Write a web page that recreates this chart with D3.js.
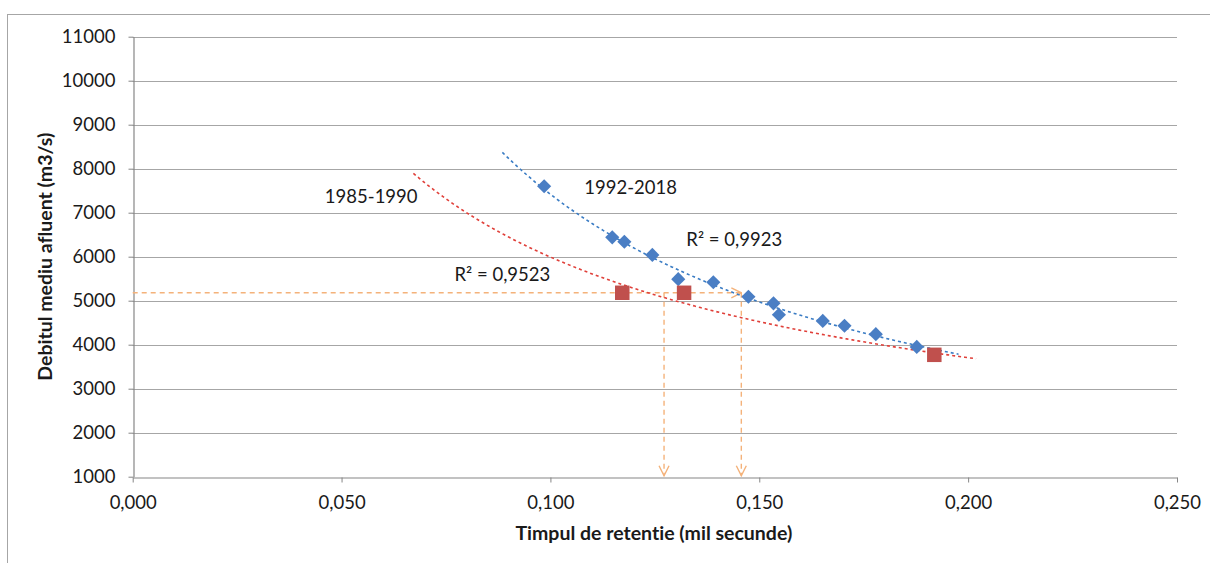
<!DOCTYPE html>
<html>
<head>
<meta charset="utf-8">
<script src="https://cdn.jsdelivr.net/npm/d3@7"></script>
<style>
  html, body { margin: 0; padding: 0; background: #fff; overflow: hidden; }
  svg { display: block; }
  text { font-family: Lato, "Open Sans", sans-serif; fill: #1a1a1a; font-variant-ligatures: none; font-feature-settings: "liga" 0, "clig" 0; }
</style>
</head>
<body>
<script>
// ---- data ----
const seriesBlueName = "1992-2018";
const blueX = [0.0985, 0.1148, 0.1177, 0.1244, 0.1306, 0.1390, 0.1474, 0.1534, 0.1547, 0.1652, 0.1704, 0.1779, 0.1877];
const blueY = [7600, 6440, 6340, 6040, 5490, 5420, 5090, 4940, 4680, 4540, 4430, 4240, 3950];

const seriesRedName = "1985-1990";
const redX = [0.1172, 0.1320, 0.1919];
const redY = [5180, 5180, 3770];

const blueR2Label = "R² = 0,9923";
const redR2Label = "R² = 0,9523";

// trendline forecast (backward, forward) in x units
const blueForecast = [0.01, 0.01];
const redForecast = [0.05, 0.01];

// reading guide (orange arrows)
const guideY = 5180;
const guideXs = [0.1272, 0.1457];

const xTicks = [0, 0.05, 0.10, 0.15, 0.20, 0.25];
const yTicks = [1000, 2000, 3000, 4000, 5000, 6000, 7000, 8000, 9000, 10000, 11000];

const xTitle = "Timpul de retentie (mil secunde)";
const yTitle = "Debitul mediu afluent (m3/s)";

// ---- layout ----
const W = 1210, H = 563;
const plot = { left: 132.7, right: 1177, top: 36.7, bottom: 476.7 };
const FONT = 'Lato, "Open Sans", sans-serif';

const svg = d3.select("body").append("svg").attr("width", W).attr("height", H);

svg.append("rect").attr("x", 7.5).attr("y", 14.5).attr("width", W + 20).attr("height", H + 20)
  .attr("fill", "#fff").attr("stroke", "#a6a6a6").attr("stroke-width", 1);

const x = d3.scaleLinear().domain([0, 0.25]).range([plot.left, plot.right]);
const y = d3.scaleLinear().domain([1000, 11000]).range([plot.bottom, plot.top]);

const loc = d3.formatLocale({ decimal: ",", thousands: "", grouping: [3], currency: ["", ""] });
const fx = loc.format(".3f");
const fy = loc.format("d");

// gridlines
svg.append("g").selectAll("line").data(yTicks.slice(1)).join("line")
  .attr("x1", plot.left).attr("x2", plot.right)
  .attr("y1", d => Math.round(y(d)) + 0.5).attr("y2", d => Math.round(y(d)) + 0.5)
  .attr("stroke", "#a6a6a6").attr("stroke-width", 1.2);

// axes
const fontSize = 18.5;
const gx = svg.append("g").attr("transform", `translate(0,${Math.round(plot.bottom) + 0.5})`)
  .call(d3.axisBottom(x).tickValues(xTicks).tickFormat(fx).tickSize(5).tickSizeOuter(0).tickPadding(13));
const gy = svg.append("g").attr("transform", `translate(${Math.round(plot.left) + 0.5},0)`)
  .call(d3.axisLeft(y).tickValues(yTicks).tickFormat(fy).tickSize(5).tickSizeOuter(0).tickPadding(13));
[gx, gy].forEach(g => {
  g.select(".domain").attr("stroke", "#868686").attr("stroke-width", 1.2);
  g.selectAll(".tick line").attr("stroke", "#868686");
  g.selectAll(".tick text").attr("font-size", fontSize).attr("font-family", FONT).attr("fill", "#1a1a1a");
});

// axis titles
const titleSize = 19.5;
svg.append("text").attr("x", (plot.left + plot.right) / 2 - 1).attr("y", 540)
  .attr("text-anchor", "middle").attr("font-weight", "bold").attr("font-size", titleSize).text(xTitle);
svg.append("text").attr("transform", `translate(52,${(plot.top + plot.bottom) / 2}) rotate(-90)`)
  .attr("text-anchor", "middle").attr("font-weight", "bold").attr("font-size", titleSize).text(yTitle);

// power regression trendline
function powerFit(xs, ys) {
  const lx = xs.map(Math.log), ly = ys.map(Math.log);
  const mx = d3.mean(lx), my = d3.mean(ly);
  let sxy = 0, sxx = 0;
  lx.forEach((v, i) => { sxy += (v - mx) * (ly[i] - my); sxx += (v - mx) * (v - mx); });
  const b = sxy / sxx;
  const a = Math.exp(my - b * mx);
  return t => a * Math.pow(t, b);
}
function trend(xs, ys, fc, color) {
  const f = powerFit(xs, ys);
  const x0 = d3.min(xs) - fc[0], x1 = d3.max(xs) + fc[1];
  const pts = d3.range(0, 101).map(i => x0 + (x1 - x0) * i / 100);
  svg.append("path").datum(pts)
    .attr("d", d3.line().x(t => x(t)).y(t => y(f(t))))
    .attr("fill", "none").attr("stroke", color).attr("stroke-width", 1.6)
    .attr("stroke-dasharray", "3,3");
}

// orange guides
const orange = "#f4b27a";
svg.append("defs").append("marker").attr("id", "chev")
  .attr("viewBox", "0 0 12 12").attr("refX", 11).attr("refY", 6)
  .attr("markerWidth", 12).attr("markerHeight", 12).attr("markerUnits", "userSpaceOnUse")
  .attr("orient", "auto")
  .append("path").attr("d", "M1,1 L11,6 L1,11").attr("fill", "none").attr("stroke", orange).attr("stroke-width", 1.4);

svg.append("line").attr("x1", x(0)).attr("x2", x(d3.max(guideXs)))
  .attr("y1", y(guideY)).attr("y2", y(guideY))
  .attr("stroke", orange).attr("stroke-width", 1.4).attr("stroke-dasharray", "5,4")
  .attr("marker-end", "url(#chev)");
svg.append("g").selectAll("line").data(guideXs).join("line")
  .attr("x1", d => x(d)).attr("x2", d => x(d))
  .attr("y1", y(guideY)).attr("y2", y(1000) - 1)
  .attr("stroke", orange).attr("stroke-width", 1.4).attr("stroke-dasharray", "5,4")
  .attr("marker-end", "url(#chev)");

trend(redX, redY, redForecast, "#e0403a");
trend(blueX, blueY, blueForecast, "#3a7cc4");

// markers
const blueData = blueX.map((v, i) => [v, blueY[i]]);
const redData = redX.map((v, i) => [v, redY[i]]);
svg.append("g").selectAll("path").data(blueData).join("path")
  .attr("d", d3.symbol(d3.symbolSquare, 100))
  .attr("transform", d => `translate(${x(d[0])},${y(d[1])}) rotate(45)`)
  .attr("fill", "#4a7ec4");
svg.append("g").selectAll("path").data(redData).join("path")
  .attr("d", d3.symbol(d3.symbolSquare, 210))
  .attr("transform", d => `translate(${x(d[0])},${y(d[1])})`)
  .attr("fill", "#c0504d");

// labels (positions in data units)
const labels = [
  { t: seriesRedName, x: 0.0571, y: 7357 },
  { t: seriesBlueName, x: 0.1192, y: 7561 },
  { t: blueR2Label, x: 0.1440, y: 6380 },
  { t: redR2Label, x: 0.0885, y: 5584 }
];
svg.append("g").selectAll("text").data(labels).join("text")
  .attr("x", d => x(d.x)).attr("y", d => y(d.y))
  .attr("dy", "0.35em").attr("text-anchor", "middle").attr("font-size", fontSize)
  .text(d => d.t);
</script>
</body>
</html>
